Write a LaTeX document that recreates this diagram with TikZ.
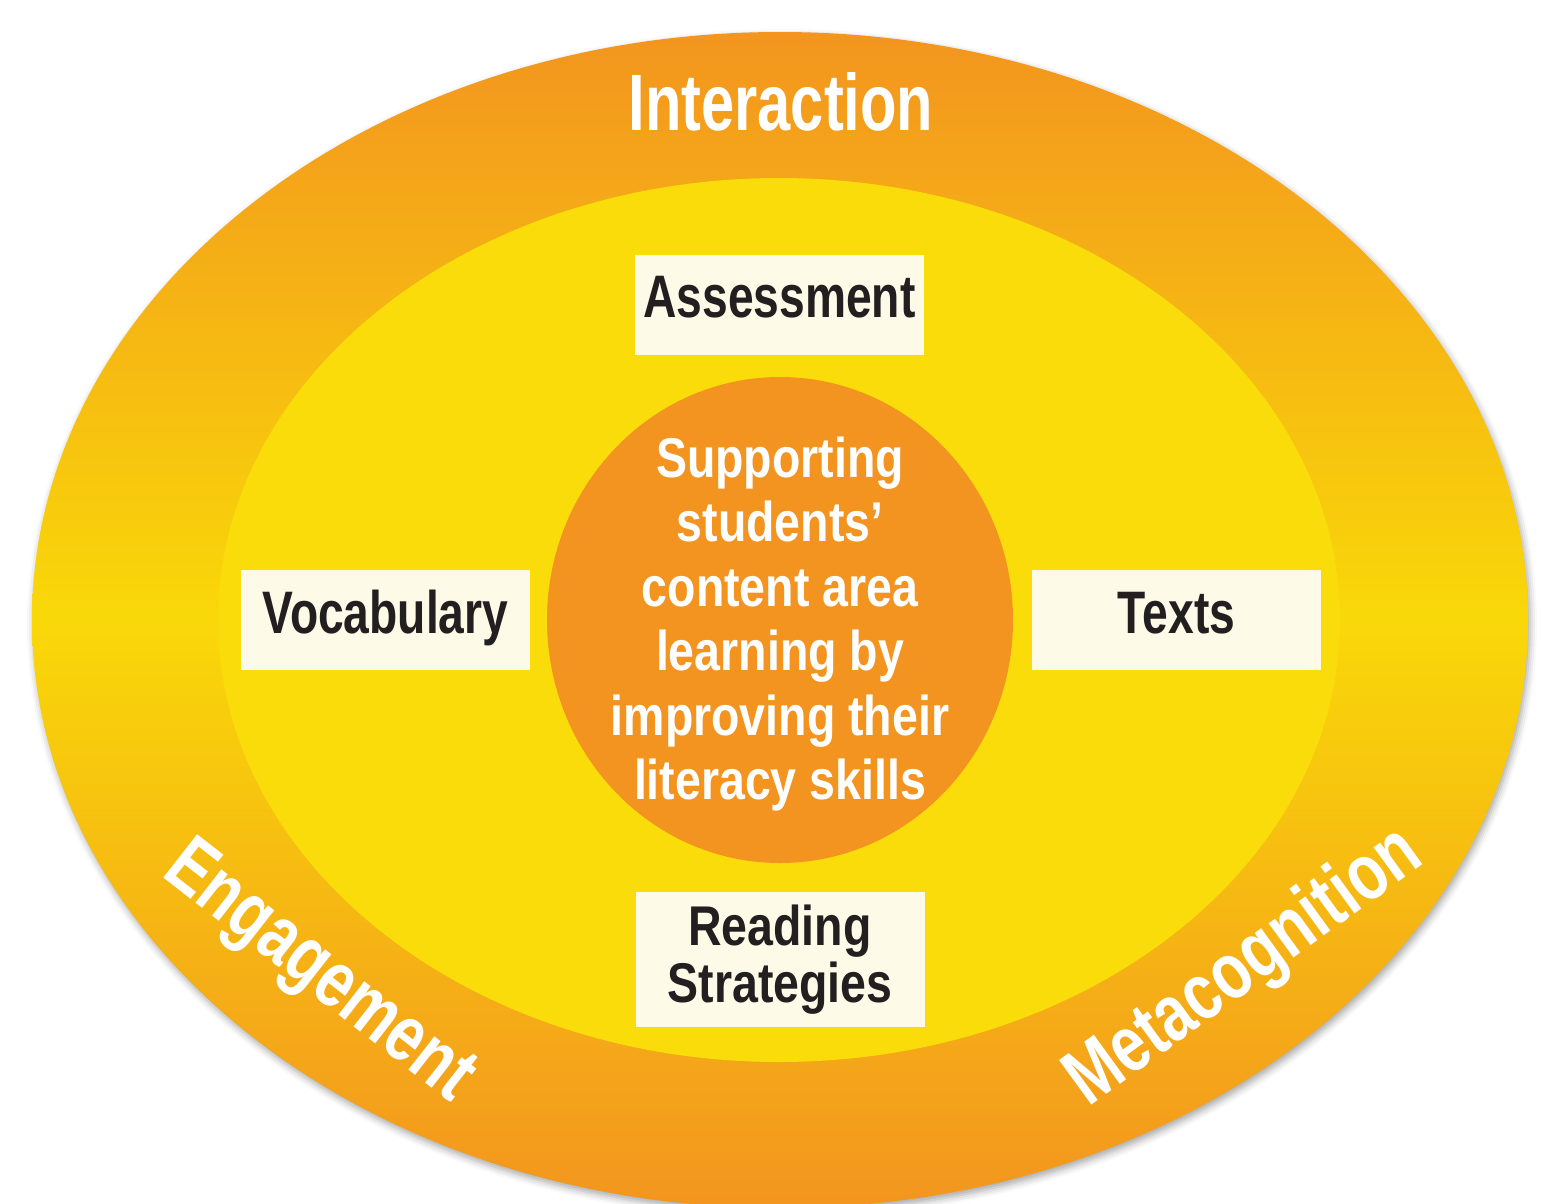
\documentclass[tikz,border=0pt]{standalone}
\usepackage{fontspec}
\newfontfamily\condfont{Liberation Sans}[FakeStretch=0.77]
\newfontfamily\widecondfont{Liberation Sans}[FakeStretch=0.83]
\newfontfamily\narrowcondfont{Liberation Sans}[FakeStretch=0.745]
\usetikzlibrary{shadows.blur}
\definecolor{ringO}{HTML}{F3951F}
\definecolor{ringY}{HTML}{F9D808}
\definecolor{innerY}{HTML}{F9DC09}
\definecolor{coreO}{HTML}{F39420}
\definecolor{boxF}{HTML}{FDFAE7}
\definecolor{inkD}{HTML}{231F20}
\begin{document}
\begin{tikzpicture}[x=1pt,y=-1pt,
  ringlabel/.style={font=\condfont\bfseries\fontsize{80}{80}\selectfont, text=white, inner sep=0pt, anchor=base},
  boxbase/.style={fill=boxF, draw=none, inner sep=0pt, minimum width=289pt, text=inkD, align=center},
  topicbox/.style={boxbase, minimum height=100pt, font=\condfont\bfseries\fontsize{60}{60}\selectfont, text height=43pt, text depth=17pt},
  tallbox/.style={boxbase, minimum height=135pt, font=\widecondfont\bfseries\fontsize{56}{57}\selectfont},
  coretext/.style={font=\widecondfont\bfseries\fontsize{56}{64.4}\selectfont, text=white, align=center, inner sep=0pt}
]
\useasboundingbox (0,0) rectangle (1541,1203);
\begin{scope}
\clip (0,0) rectangle (1541,1203);
% outer ring
\path[blur shadow={shadow xshift=2pt, shadow yshift=-4pt, shadow blur radius=7pt, shadow opacity=35},
      top color=ringO, bottom color=ringO, middle color=ringY]
  (780,620) ellipse [x radius=748pt, y radius=588pt];
% inner ellipse
\fill[innerY] (779,620) ellipse [x radius=561pt, y radius=442pt];
% core
\fill[coreO] (780,620) ellipse [x radius=233pt, y radius=243pt];
\end{scope}

\node[coretext] (goal) at (780,624) {Supporting\\students’\\content area\\learning by\\improving their\\literacy skills};

\node[topicbox] (assess) at (779.5,304.5) {Assessment};
\node[topicbox] (vocab) at (385.5,620) {Vocabulary};
\node[topicbox] (texts) at (1176.5,620) {Texts};
\node[tallbox] (reading) at (780,959.5) {Reading\\Strategies};

\node[ringlabel, font=\narrowcondfont\bfseries\fontsize{80}{80}\selectfont] (inter) at (781,130) {Interaction};
\node[ringlabel, rotate=-38] (engage) at (306,989) {Engagement};
\node[ringlabel, rotate=36] (meta) at (1257,985) {Metacognition};
\end{tikzpicture}
\end{document}
